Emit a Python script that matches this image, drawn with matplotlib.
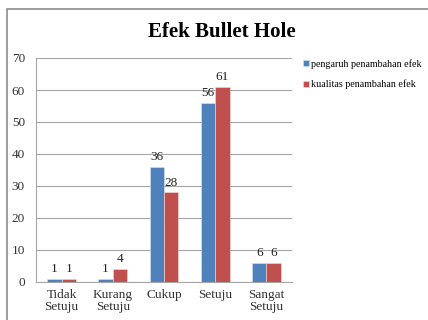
import numpy as np
import matplotlib
matplotlib.use('Agg')
import matplotlib.pyplot as plt
from matplotlib.patches import Rectangle

categories = ['Tidak\nSetuju', 'Kurang\nSetuju', 'Cukup', 'Setuju', 'Sangat\nSetuju']
pengaruh = [1, 1, 36, 56, 6]
kualitas = [1, 4, 28, 61, 6]
series_names = ['pengaruh penambahan efek', 'kualitas penambahan efek']

plt.rcParams['font.family'] = ['Liberation Serif', 'DejaVu Serif']

fig = plt.figure(figsize=(4.28, 3.2), dpi=100)
# chart border
fig.patches.append(Rectangle((7/428, -0.1), 1.2, 1.1 - 9/320, transform=fig.transFigure,
                             fill=False, edgecolor='#8c8c8c', linewidth=1.2))

ax = fig.add_axes([36/428, 38/320, 256/428, 224/320])
x = np.arange(len(categories))
w = 0.28
b1 = ax.bar(x - w/2, pengaruh, w, color='#4F81BD', edgecolor='#dce6f2', linewidth=0.4,
            label=series_names[0], zorder=3)
b2 = ax.bar(x + w/2, kualitas, w, color='#C0504D', edgecolor='#f2dcdb', linewidth=0.4,
            label=series_names[1], zorder=3)

for bars, vals in [(b1, pengaruh), (b2, kualitas)]:
    for r, v in zip(bars, vals):
        ax.text(r.get_x() + r.get_width()/2, v + 1.2, str(v), ha='center', va='bottom',
                fontsize=9.5, color='#222222')

ax.set_xlim(-0.5, 4.5)
ax.set_ylim(0, 70)
ax.set_yticks(range(0, 71, 10))
ax.set_xticks(x)
ax.set_xticklabels(categories, fontsize=9.5, color='#333333', linespacing=1.0)
ax.tick_params(axis='y', labelsize=9.5, labelcolor='#333333', length=0, pad=8)
ax.tick_params(axis='x', length=0, pad=5)
ax.grid(axis='y', color='#a6a6a6', linewidth=0.8, zorder=0)
for s in ['top', 'right']:
    ax.spines[s].set_visible(False)
ax.spines['left'].set_color('#a6a6a6')
ax.spines['bottom'].set_color('#a6a6a6')

fig.text(222/428, 1 - 32/320, 'Efek Bullet Hole', ha='center', va='center',
         fontsize=15, fontweight='bold')

ax.legend(loc='upper left', bbox_to_anchor=(299/428, 1 - 55/320), bbox_transform=fig.transFigure,
          frameon=False, fontsize=7.2, handlelength=0.6, handleheight=0.6, handletextpad=0.2,
          labelspacing=1.1, borderaxespad=0)

fig.savefig('out.png', dpi=100)
